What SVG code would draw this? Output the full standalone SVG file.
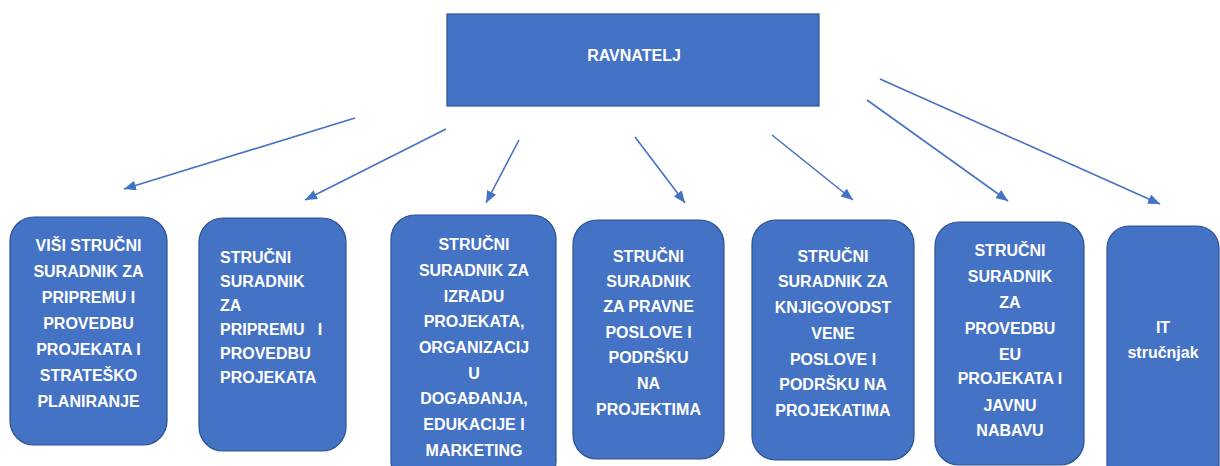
<svg xmlns="http://www.w3.org/2000/svg" width="1220" height="466" viewBox="0 0 1220 466">
<style>
.box{fill:#4472C4;stroke:#2F528F;stroke-width:1.2}
.t{font-family:"Liberation Sans",Arial,sans-serif;font-weight:bold;font-size:16px;fill:#FFFFFF;text-anchor:middle}
.tl{text-anchor:start;white-space:pre}
.c{stroke:#4472C4;stroke-width:1.6;fill:none;marker-end:url(#ah)}
</style>
<defs>
<marker id="ah" viewBox="0 0 12 10" refX="12" refY="5" markerWidth="12" markerHeight="10" markerUnits="userSpaceOnUse" orient="auto">
<path d="M0,0 L12,5 L0,10 z" fill="#4472C4"/>
</marker>
</defs>
<rect width="1220" height="466" fill="#FFFFFF"/>
<g id="ravnatelj">
<rect class="box" x="447" y="14" width="372" height="92"/>
<text class="t" x="634" y="61">RAVNATELJ</text>
</g>
<g id="connectors">
<line class="c" x1="355" y1="118" x2="124" y2="189"/>
<line class="c" x1="446" y1="129" x2="305" y2="200"/>
<line class="c" x1="519" y1="140" x2="486" y2="203"/>
<line class="c" x1="635" y1="137" x2="685" y2="203"/>
<line class="c" x1="772" y1="135" x2="853" y2="200"/>
<line class="c" x1="867" y1="100" x2="1008" y2="201"/>
<line class="c" x1="880" y1="79" x2="1160" y2="204"/>
</g>
<g id="n1">
<rect class="box" x="10" y="217" width="157" height="228" rx="24"/>
<text class="t" x="88.5" y="251">VIŠI STRUČNI</text>
<text class="t" x="88.5" y="277">SURADNIK ZA</text>
<text class="t" x="88.5" y="303">PRIPREMU I</text>
<text class="t" x="88.5" y="329">PROVEDBU</text>
<text class="t" x="88.5" y="355">PROJEKATA I</text>
<text class="t" x="88.5" y="381">STRATEŠKO</text>
<text class="t" x="88.5" y="407">PLANIRANJE</text>
</g>
<g id="n2">
<rect class="box" x="199" y="218" width="147" height="233" rx="24"/>
<text class="t tl" x="220" y="263">STRUČNI</text>
<text class="t tl" x="220" y="287">SURADNIK</text>
<text class="t tl" x="220" y="311">ZA</text>
<text class="t tl" x="220" y="335">PRIPREMU   I</text>
<text class="t tl" x="220" y="359">PROVEDBU</text>
<text class="t tl" x="220" y="383">PROJEKATA</text>
</g>
<g id="n3">
<rect class="box" x="391" y="215" width="165" height="270" rx="24"/>
<text class="t" x="474" y="250">STRUČNI</text>
<text class="t" x="474" y="276">SURADNIK ZA</text>
<text class="t" x="474" y="302">IZRADU</text>
<text class="t" x="474" y="327">PROJEKATA,</text>
<text class="t" x="474" y="353">ORGANIZACIJ</text>
<text class="t" x="474" y="379">U</text>
<text class="t" x="474" y="404">DOGAĐANJA,</text>
<text class="t" x="474" y="430">EDUKACIJE I</text>
<text class="t" x="474" y="456">MARKETING</text>
</g>
<g id="n4">
<rect class="box" x="573" y="220" width="151" height="239" rx="24"/>
<text class="t" x="648.5" y="262">STRUČNI</text>
<text class="t" x="648.5" y="287">SURADNIK</text>
<text class="t" x="648.5" y="312">ZA PRAVNE</text>
<text class="t" x="648.5" y="338">POSLOVE I</text>
<text class="t" x="648.5" y="363">PODRŠKU</text>
<text class="t" x="648.5" y="389">NA</text>
<text class="t" x="648.5" y="415">PROJEKTIMA</text>
</g>
<g id="n5">
<rect class="box" x="752" y="220" width="162" height="240" rx="24"/>
<text class="t" x="833" y="262">STRUČNI</text>
<text class="t" x="833" y="287">SURADNIK ZA</text>
<text class="t" x="833" y="313">KNJIGOVODST</text>
<text class="t" x="833" y="339">VENE</text>
<text class="t" x="833" y="365">POSLOVE I</text>
<text class="t" x="833" y="390">PODRŠKU NA</text>
<text class="t" x="833" y="416">PROJEKATIMA</text>
</g>
<g id="n6">
<rect class="box" x="935" y="222" width="149" height="243" rx="24"/>
<text class="t" x="1010" y="256">STRUČNI</text>
<text class="t" x="1010" y="282">SURADNIK</text>
<text class="t" x="1010" y="308">ZA</text>
<text class="t" x="1010" y="334">PROVEDBU</text>
<text class="t" x="1010" y="360">EU</text>
<text class="t" x="1010" y="384">PROJEKATA I</text>
<text class="t" x="1010" y="411">JAVNU</text>
<text class="t" x="1010" y="436">NABAVU</text>
</g>
<g id="n7">
<rect class="box" x="1107" y="226" width="112" height="260" rx="22"/>
<text class="t" x="1163" y="333">IT</text>
<text class="t" x="1163" y="358">stručnjak</text>
</g>
</svg>
